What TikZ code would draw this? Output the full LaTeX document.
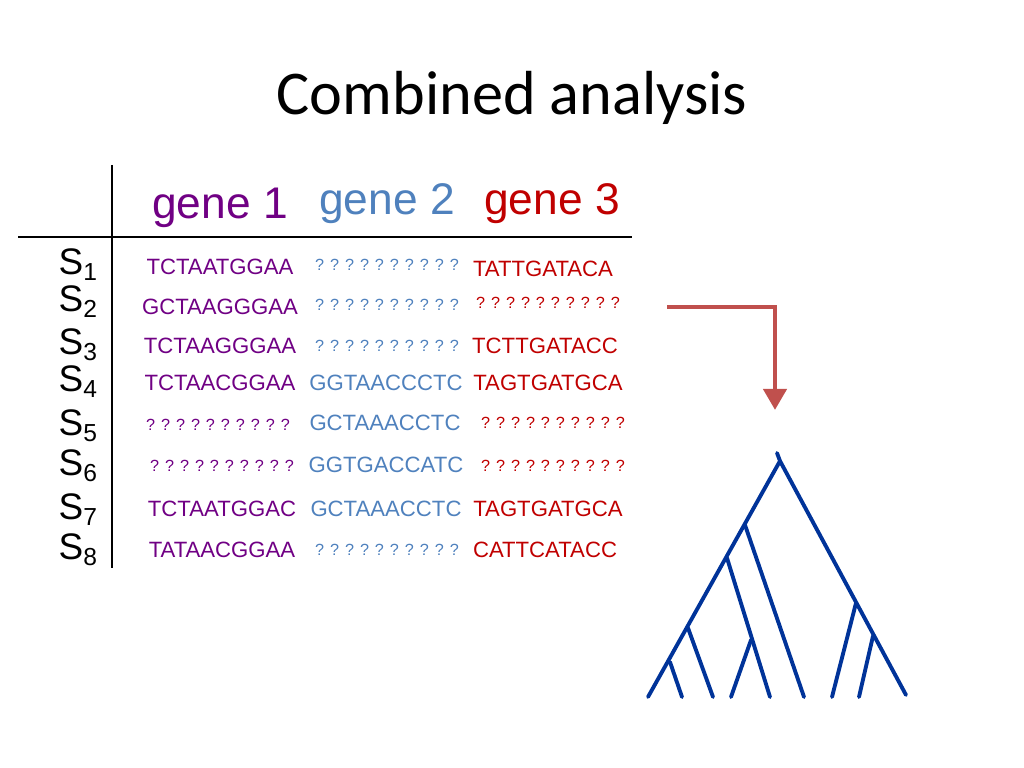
\documentclass[tikz,border=0pt]{standalone}
\usepackage{fontspec}
\usetikzlibrary{arrows.meta}
\setmainfont{Liberation Sans}
\newfontfamily\titlefont{Carlito}
\begin{document}
\begin{tikzpicture}[x=0.01cm,y=-0.01cm,
  seq/.style={font=\fontsize{6.3pt}{7pt}\selectfont, inner sep=0pt},
  qm/.style={font=\fontsize{4.6pt}{6pt}\selectfont, inner sep=0pt},
  hdr/.style={font=\fontsize{12.6pt}{14pt}\selectfont, inner sep=0pt},
  sp/.style={font=\fontsize{10.5pt}{12pt}\selectfont, inner sep=0pt, anchor=west},
  br/.style={line width=1.1pt, draw={rgb,255:red,0;green,51;blue,153}, line cap=round}]
\definecolor{gp}{RGB}{112,0,132}
\definecolor{gb}{RGB}{79,129,189}
\definecolor{gr}{RGB}{192,0,0}
\definecolor{ar}{RGB}{192,80,77}
\useasboundingbox (0,0) rectangle (1024,768);
\node[font=\titlefont\fontsize{17.7pt}{20pt}\selectfont] (title) at (512,98) {Combined analysis};
\coordinate (vt) at (112,165); \coordinate (vb) at (112,568);
\coordinate (hl) at (18,237); \coordinate (hr) at (632,237);
\draw[line width=0.8pt] (vt) -- (vb);
\draw[line width=0.8pt] (hl) -- (hr);
\node[hdr,text=gp] (g1) at (220,208) {gene 1};
\node[hdr,text=gb] (g2) at (387,204) {gene 2};
\node[hdr,text=gr] (g3) at (552,204) {gene 3};
\foreach \i/\y in {1/265,2/302,3/345,4/382,5/426,6/466,7/510,8/550}
  \node[sp] (s\i) at (58,\y) {S$_{\mbox{\fontsize{7pt}{8pt}\selectfont\i}}$};
\def\q{? ? ? ? ? ? ? ? ? ?}
\node[seq,text=gp] (a1) at (220,267) {TCTAATGGAA};
\node[qm,text=gb] (b1) at (387,265) {\q};
\node[seq,text=gr] (c1) at (543,269) {TATTGATACA};
\node[seq,text=gp] (a2) at (220,307) {GCTAAGGGAA};
\node[qm,text=gb] (b2) at (387,305) {\q};
\node[qm,text=gr] (c2) at (548,303) {\q};
\node[seq,text=gp] (a3) at (220,346) {TCTAAGGGAA};
\node[qm,text=gb] (b3) at (387,346) {\q};
\node[seq,text=gr] (c3) at (545,346) {TCTTGATACC};
\node[seq,text=gp] (a4) at (220,383) {TCTAACGGAA};
\node[seq,text=gb] (b4) at (386,383) {GGTAACCCTC};
\node[seq,text=gr] (c4) at (548,383) {TAGTGATGCA};
\node[qm,text=gp] (a5) at (218,425) {\q};
\node[seq,text=gb] (b5) at (385,423) {GCTAAACCTC};
\node[qm,text=gr] (c5) at (553,423) {\q};
\node[qm,text=gp] (a6) at (222,466) {\q};
\node[seq,text=gb] (b6) at (386,465) {GGTGACCATC};
\node[qm,text=gr] (c6) at (553,466) {\q};
\node[seq,text=gp] (a7) at (222,509) {TCTAATGGAC};
\node[seq,text=gb] (b7) at (386,509) {GCTAAACCTC};
\node[seq,text=gr] (c7) at (548,509) {TAGTGATGCA};
\node[seq,text=gp] (a8) at (222,550) {TATAACGGAA};
\node[qm,text=gb] (b8) at (387,550) {\q};
\node[seq,text=gr] (c8) at (545,550) {CATTCATACC};
% arrow
\coordinate (p0) at (667,307); \coordinate (p1) at (775,307); \coordinate (p2) at (775,410);
\draw[ar, line width=1.4pt, -{Triangle[length=6pt,width=6.5pt]}] (p0) -- (p1) -- (p2);
% tree
\coordinate (top) at (777,453); \coordinate (r) at (780,461);
\coordinate (L) at (648,697); \coordinate (R) at (906,695);
\coordinate (A) at (745,525); \coordinate (B) at (727,558); \coordinate (C) at (751,640);
\coordinate (D) at (688,628); \coordinate (E) at (670,662);
\coordinate (F) at (856,603); \coordinate (G) at (873,636);
\draw[br] (top) -- (r) -- (L);
\draw[br] (r) -- (R);
\draw[br] (A) -- (804,697);
\draw[br] (B) -- (770,697);
\draw[br] (C) -- (731,697);
\draw[br] (D) -- (713,697);
\draw[br] (E) -- (682,697);
\draw[br] (F) -- (832,697);
\draw[br] (G) -- (859,697);
\end{tikzpicture}
\end{document}
